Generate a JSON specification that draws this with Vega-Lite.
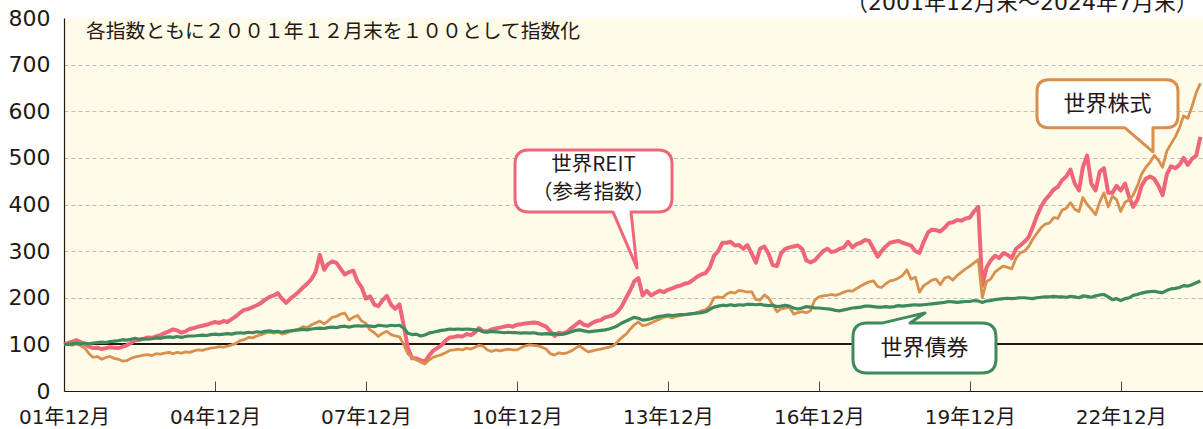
{
  "$schema": "https://vega.github.io/schema/vega-lite/v6.json",
  "width": 1139,
  "height": 373,
  "autosize": {"type": "none"},
  "padding": {"left": 64, "top": 18, "right": 0, "bottom": 38},
  "background": "white",
  "config": {
    "view": {"fill": "#FEFBE8", "stroke": null},
    "font": "Noto Sans CJK JP"
  },
  "data": {"values": [
{"d":"2001-12","s":100,"r":100,"b":100},
{"d":"2002-01","s":100,"r":103,"b":100},
{"d":"2002-02","s":98,"r":106,"b":101},
{"d":"2002-03","s":102,"r":109,"b":102},
{"d":"2002-04","s":97,"r":105,"b":101},
{"d":"2002-05","s":92,"r":100,"b":103},
{"d":"2002-06","s":80,"r":95,"b":101},
{"d":"2002-07","s":72,"r":92,"b":103},
{"d":"2002-08","s":74,"r":93,"b":104},
{"d":"2002-09","s":68,"r":90,"b":105},
{"d":"2002-10","s":72,"r":92,"b":104},
{"d":"2002-11","s":74,"r":94,"b":106},
{"d":"2002-12","s":70,"r":93,"b":107},
{"d":"2003-01","s":68,"r":92,"b":108},
{"d":"2003-02","s":64,"r":95,"b":110},
{"d":"2003-03","s":65,"r":98,"b":109},
{"d":"2003-04","s":70,"r":103,"b":111},
{"d":"2003-05","s":73,"r":109,"b":113},
{"d":"2003-06","s":75,"r":110,"b":111},
{"d":"2003-07","s":77,"r":112,"b":112},
{"d":"2003-08","s":78,"r":115,"b":111},
{"d":"2003-09","s":76,"r":114,"b":112},
{"d":"2003-10","s":80,"r":117,"b":114},
{"d":"2003-11","s":79,"r":120,"b":113},
{"d":"2003-12","s":81,"r":124,"b":115},
{"d":"2004-01","s":83,"r":128,"b":116},
{"d":"2004-02","s":80,"r":132,"b":115},
{"d":"2004-03","s":83,"r":130,"b":117},
{"d":"2004-04","s":81,"r":125,"b":115},
{"d":"2004-05","s":84,"r":128,"b":117},
{"d":"2004-06","s":83,"r":133,"b":118},
{"d":"2004-07","s":86,"r":135,"b":118},
{"d":"2004-08","s":88,"r":138,"b":119},
{"d":"2004-09","s":87,"r":140,"b":120},
{"d":"2004-10","s":90,"r":142,"b":119},
{"d":"2004-11","s":92,"r":145,"b":121},
{"d":"2004-12","s":93,"r":148,"b":122},
{"d":"2005-01","s":95,"r":146,"b":121},
{"d":"2005-02","s":94,"r":150,"b":122},
{"d":"2005-03","s":96,"r":148,"b":123},
{"d":"2005-04","s":99,"r":154,"b":122},
{"d":"2005-05","s":102,"r":160,"b":124},
{"d":"2005-06","s":108,"r":168,"b":125},
{"d":"2005-07","s":110,"r":174,"b":124},
{"d":"2005-08","s":115,"r":176,"b":126},
{"d":"2005-09","s":114,"r":180,"b":125},
{"d":"2005-10","s":118,"r":184,"b":127},
{"d":"2005-11","s":121,"r":189,"b":126},
{"d":"2005-12","s":124,"r":196,"b":128},
{"d":"2006-01","s":126,"r":202,"b":129},
{"d":"2006-02","s":124,"r":205,"b":127},
{"d":"2006-03","s":127,"r":210,"b":128},
{"d":"2006-04","s":122,"r":198,"b":126},
{"d":"2006-05","s":124,"r":189,"b":128},
{"d":"2006-06","s":128,"r":198,"b":129},
{"d":"2006-07","s":130,"r":205,"b":130},
{"d":"2006-08","s":133,"r":213,"b":131},
{"d":"2006-09","s":138,"r":222,"b":132},
{"d":"2006-10","s":136,"r":230,"b":131},
{"d":"2006-11","s":142,"r":240,"b":133},
{"d":"2006-12","s":146,"r":255,"b":134},
{"d":"2007-01","s":150,"r":292,"b":135},
{"d":"2007-02","s":144,"r":260,"b":134},
{"d":"2007-03","s":150,"r":272,"b":136},
{"d":"2007-04","s":158,"r":278,"b":137},
{"d":"2007-05","s":160,"r":275,"b":136},
{"d":"2007-06","s":165,"r":262,"b":138},
{"d":"2007-07","s":167,"r":250,"b":139},
{"d":"2007-08","s":152,"r":255,"b":137},
{"d":"2007-09","s":158,"r":258,"b":139},
{"d":"2007-10","s":162,"r":235,"b":140},
{"d":"2007-11","s":150,"r":222,"b":139},
{"d":"2007-12","s":145,"r":198,"b":140},
{"d":"2008-01","s":131,"r":203,"b":139},
{"d":"2008-02","s":125,"r":185,"b":138},
{"d":"2008-03","s":117,"r":182,"b":141},
{"d":"2008-04","s":124,"r":195,"b":140},
{"d":"2008-05","s":128,"r":204,"b":139},
{"d":"2008-06","s":121,"r":185,"b":141},
{"d":"2008-07","s":118,"r":176,"b":140},
{"d":"2008-08","s":116,"r":186,"b":141},
{"d":"2008-09","s":100,"r":140,"b":135},
{"d":"2008-10","s":80,"r":92,"b":124},
{"d":"2008-11","s":72,"r":70,"b":121},
{"d":"2008-12","s":67,"r":70,"b":122},
{"d":"2009-01","s":62,"r":66,"b":118},
{"d":"2009-02","s":58,"r":63,"b":120},
{"d":"2009-03","s":66,"r":75,"b":124},
{"d":"2009-04","s":72,"r":86,"b":126},
{"d":"2009-05","s":75,"r":92,"b":128},
{"d":"2009-06","s":78,"r":98,"b":130},
{"d":"2009-07","s":82,"r":108,"b":131},
{"d":"2009-08","s":87,"r":115,"b":133},
{"d":"2009-09","s":88,"r":116,"b":132},
{"d":"2009-10","s":90,"r":118,"b":133},
{"d":"2009-11","s":88,"r":117,"b":132},
{"d":"2009-12","s":92,"r":122,"b":133},
{"d":"2010-01","s":90,"r":120,"b":132},
{"d":"2010-02","s":94,"r":126,"b":131},
{"d":"2010-03","s":98,"r":135,"b":131},
{"d":"2010-04","s":96,"r":128,"b":127},
{"d":"2010-05","s":88,"r":128,"b":126},
{"d":"2010-06","s":85,"r":132,"b":128},
{"d":"2010-07","s":88,"r":134,"b":127},
{"d":"2010-08","s":86,"r":136,"b":126},
{"d":"2010-09","s":88,"r":138,"b":125},
{"d":"2010-10","s":90,"r":140,"b":126},
{"d":"2010-11","s":88,"r":138,"b":125},
{"d":"2010-12","s":88,"r":142,"b":125},
{"d":"2011-01","s":93,"r":143,"b":124},
{"d":"2011-02","s":97,"r":145,"b":125},
{"d":"2011-03","s":99,"r":146,"b":124},
{"d":"2011-04","s":98,"r":147,"b":125},
{"d":"2011-05","s":97,"r":146,"b":123},
{"d":"2011-06","s":94,"r":142,"b":122},
{"d":"2011-07","s":90,"r":138,"b":123},
{"d":"2011-08","s":80,"r":128,"b":122},
{"d":"2011-09","s":77,"r":118,"b":123},
{"d":"2011-10","s":82,"r":125,"b":121},
{"d":"2011-11","s":80,"r":123,"b":122},
{"d":"2011-12","s":82,"r":127,"b":124},
{"d":"2012-01","s":86,"r":135,"b":127},
{"d":"2012-02","s":92,"r":142,"b":130},
{"d":"2012-03","s":97,"r":149,"b":131},
{"d":"2012-04","s":90,"r":142,"b":129},
{"d":"2012-05","s":84,"r":140,"b":127},
{"d":"2012-06","s":86,"r":146,"b":128},
{"d":"2012-07","s":88,"r":150,"b":129},
{"d":"2012-08","s":90,"r":152,"b":130},
{"d":"2012-09","s":92,"r":158,"b":131},
{"d":"2012-10","s":94,"r":160,"b":133},
{"d":"2012-11","s":97,"r":163,"b":136},
{"d":"2012-12","s":106,"r":170,"b":140},
{"d":"2013-01","s":115,"r":182,"b":146},
{"d":"2013-02","s":122,"r":200,"b":150},
{"d":"2013-03","s":132,"r":215,"b":154},
{"d":"2013-04","s":142,"r":235,"b":158},
{"d":"2013-05","s":148,"r":242,"b":156},
{"d":"2013-06","s":140,"r":205,"b":152},
{"d":"2013-07","s":142,"r":215,"b":153},
{"d":"2013-08","s":146,"r":205,"b":155},
{"d":"2013-09","s":150,"r":210,"b":158},
{"d":"2013-10","s":154,"r":215,"b":160},
{"d":"2013-11","s":158,"r":212,"b":161},
{"d":"2013-12","s":160,"r":217,"b":163},
{"d":"2014-01","s":157,"r":220,"b":162},
{"d":"2014-02","s":160,"r":224,"b":163},
{"d":"2014-03","s":161,"r":226,"b":164},
{"d":"2014-04","s":163,"r":230,"b":164},
{"d":"2014-05","s":165,"r":232,"b":165},
{"d":"2014-06","s":166,"r":238,"b":166},
{"d":"2014-07","s":168,"r":245,"b":167},
{"d":"2014-08","s":172,"r":250,"b":168},
{"d":"2014-09","s":174,"r":253,"b":170},
{"d":"2014-10","s":182,"r":265,"b":175},
{"d":"2014-11","s":200,"r":290,"b":180},
{"d":"2014-12","s":202,"r":300,"b":182},
{"d":"2015-01","s":200,"r":318,"b":184},
{"d":"2015-02","s":208,"r":318,"b":183},
{"d":"2015-03","s":212,"r":320,"b":185},
{"d":"2015-04","s":210,"r":312,"b":183},
{"d":"2015-05","s":216,"r":313,"b":185},
{"d":"2015-06","s":214,"r":305,"b":184},
{"d":"2015-07","s":212,"r":313,"b":186},
{"d":"2015-08","s":213,"r":295,"b":186},
{"d":"2015-09","s":196,"r":275,"b":185},
{"d":"2015-10","s":195,"r":305,"b":186},
{"d":"2015-11","s":206,"r":310,"b":184},
{"d":"2015-12","s":200,"r":295,"b":183},
{"d":"2016-01","s":185,"r":270,"b":184},
{"d":"2016-02","s":170,"r":268,"b":181},
{"d":"2016-03","s":176,"r":295,"b":182},
{"d":"2016-04","s":178,"r":305,"b":184},
{"d":"2016-05","s":180,"r":308,"b":182},
{"d":"2016-06","s":165,"r":310,"b":178},
{"d":"2016-07","s":168,"r":312,"b":176},
{"d":"2016-08","s":170,"r":305,"b":178},
{"d":"2016-09","s":168,"r":280,"b":181},
{"d":"2016-10","s":172,"r":276,"b":180},
{"d":"2016-11","s":195,"r":280,"b":178},
{"d":"2016-12","s":202,"r":290,"b":178},
{"d":"2017-01","s":204,"r":300,"b":177},
{"d":"2017-02","s":205,"r":305,"b":176},
{"d":"2017-03","s":207,"r":298,"b":175},
{"d":"2017-04","s":205,"r":300,"b":173},
{"d":"2017-05","s":208,"r":305,"b":172},
{"d":"2017-06","s":212,"r":308,"b":174},
{"d":"2017-07","s":215,"r":320,"b":176},
{"d":"2017-08","s":214,"r":308,"b":178},
{"d":"2017-09","s":220,"r":315,"b":179},
{"d":"2017-10","s":225,"r":318,"b":180},
{"d":"2017-11","s":230,"r":324,"b":182},
{"d":"2017-12","s":234,"r":322,"b":182},
{"d":"2018-01","s":236,"r":305,"b":181},
{"d":"2018-02","s":224,"r":288,"b":180},
{"d":"2018-03","s":222,"r":300,"b":180},
{"d":"2018-04","s":230,"r":310,"b":181},
{"d":"2018-05","s":236,"r":318,"b":180},
{"d":"2018-06","s":238,"r":320,"b":181},
{"d":"2018-07","s":242,"r":322,"b":183},
{"d":"2018-08","s":248,"r":318,"b":182},
{"d":"2018-09","s":260,"r":315,"b":183},
{"d":"2018-10","s":240,"r":312,"b":184},
{"d":"2018-11","s":244,"r":300,"b":185},
{"d":"2018-12","s":212,"r":296,"b":184},
{"d":"2019-01","s":226,"r":320,"b":185},
{"d":"2019-02","s":232,"r":340,"b":186},
{"d":"2019-03","s":238,"r":346,"b":187},
{"d":"2019-04","s":240,"r":345,"b":188},
{"d":"2019-05","s":228,"r":342,"b":189},
{"d":"2019-06","s":242,"r":350,"b":190},
{"d":"2019-07","s":245,"r":360,"b":192},
{"d":"2019-08","s":238,"r":362,"b":191},
{"d":"2019-09","s":248,"r":367,"b":190},
{"d":"2019-10","s":255,"r":365,"b":191},
{"d":"2019-11","s":262,"r":370,"b":192},
{"d":"2019-12","s":268,"r":372,"b":192},
{"d":"2020-01","s":275,"r":385,"b":194},
{"d":"2020-02","s":282,"r":395,"b":193},
{"d":"2020-03","s":200,"r":225,"b":190},
{"d":"2020-04","s":235,"r":265,"b":193},
{"d":"2020-05","s":240,"r":280,"b":194},
{"d":"2020-06","s":255,"r":290,"b":196},
{"d":"2020-07","s":262,"r":285,"b":197},
{"d":"2020-08","s":268,"r":296,"b":198},
{"d":"2020-09","s":265,"r":292,"b":199},
{"d":"2020-10","s":262,"r":285,"b":198},
{"d":"2020-11","s":285,"r":305,"b":199},
{"d":"2020-12","s":296,"r":312,"b":200},
{"d":"2021-01","s":300,"r":320,"b":200},
{"d":"2021-02","s":310,"r":330,"b":199},
{"d":"2021-03","s":325,"r":350,"b":198},
{"d":"2021-04","s":338,"r":375,"b":200},
{"d":"2021-05","s":350,"r":395,"b":201},
{"d":"2021-06","s":358,"r":410,"b":202},
{"d":"2021-07","s":360,"r":420,"b":202},
{"d":"2021-08","s":372,"r":432,"b":203},
{"d":"2021-09","s":370,"r":438,"b":202},
{"d":"2021-10","s":388,"r":452,"b":202},
{"d":"2021-11","s":392,"r":460,"b":201},
{"d":"2021-12","s":404,"r":475,"b":203},
{"d":"2022-01","s":390,"r":445,"b":202},
{"d":"2022-02","s":385,"r":430,"b":200},
{"d":"2022-03","s":415,"r":480,"b":204},
{"d":"2022-04","s":400,"r":505,"b":203},
{"d":"2022-05","s":390,"r":445,"b":201},
{"d":"2022-06","s":378,"r":430,"b":204},
{"d":"2022-07","s":405,"r":470,"b":206},
{"d":"2022-08","s":425,"r":478,"b":207},
{"d":"2022-09","s":395,"r":425,"b":202},
{"d":"2022-10","s":418,"r":425,"b":196},
{"d":"2022-11","s":410,"r":440,"b":198},
{"d":"2022-12","s":385,"r":430,"b":194},
{"d":"2023-01","s":405,"r":445,"b":198},
{"d":"2023-02","s":410,"r":415,"b":200},
{"d":"2023-03","s":420,"r":395,"b":205},
{"d":"2023-04","s":440,"r":410,"b":207},
{"d":"2023-05","s":465,"r":440,"b":210},
{"d":"2023-06","s":480,"r":455,"b":212},
{"d":"2023-07","s":490,"r":460,"b":213},
{"d":"2023-08","s":505,"r":455,"b":214},
{"d":"2023-09","s":495,"r":440,"b":212},
{"d":"2023-10","s":480,"r":420,"b":211},
{"d":"2023-11","s":515,"r":465,"b":216},
{"d":"2023-12","s":530,"r":482,"b":219},
{"d":"2024-01","s":545,"r":478,"b":220},
{"d":"2024-02","s":565,"r":485,"b":222},
{"d":"2024-03","s":590,"r":500,"b":226},
{"d":"2024-04","s":585,"r":485,"b":225},
{"d":"2024-05","s":610,"r":498,"b":228},
{"d":"2024-06","s":640,"r":505,"b":232},
{"d":"2024-07","s":660,"r":545,"b":236}
  ]},
  "layer": [
    {
      "mark": {"type": "rule", "color": "#231815", "strokeWidth": 1.2},
      "encoding": {"y": {"datum": 100, "type": "quantitative", "scale": {"domain": [0, 800], "nice": false}}}
    },
    {
      "mark": {"type": "line", "color": "#EF6679", "strokeWidth": 4, "strokeJoin": "round"},
      "encoding": {
        "x": {
          "field": "d", "type": "temporal",
          "scale": {"type": "utc", "domain": [{"year": 2001, "month": 12, "date": 1, "utc": true}, {"year": 2024, "month": 7, "date": 20, "utc": true}]},
          "axis": {
            "title": null,
            "values": [
              {"year": 2001, "month": 12, "date": 1, "utc": true},
              {"year": 2004, "month": 12, "date": 1, "utc": true},
              {"year": 2007, "month": 12, "date": 1, "utc": true},
              {"year": 2010, "month": 12, "date": 1, "utc": true},
              {"year": 2013, "month": 12, "date": 1, "utc": true},
              {"year": 2016, "month": 12, "date": 1, "utc": true},
              {"year": 2019, "month": 12, "date": 1, "utc": true},
              {"year": 2022, "month": 12, "date": 1, "utc": true}
            ],
            "labelExpr": "utcFormat(datum.value, '%y年%m月')",
            "grid": false,
            "domainColor": "#231815", "domainWidth": 1.2,
            "tickColor": "#4a4a4a", "tickWidth": 1, "tickSize": -10,
            "labelFont": "DejaVu Sans, Noto Sans CJK JP",
            "labelFontSize": 20, "labelColor": "#231815", "labelPadding": 26,
            "labelFlush": false, "labelOverlap": false, "labelBound": false
          }
        },
        "y": {
          "field": "r", "type": "quantitative",
          "scale": {"domain": [0, 800], "nice": false},
          "axis": {
            "title": null,
            "values": [0, 100, 200, 300, 400, 500, 600, 700, 800],
            "ticks": false,
            "labelFont": "DejaVu Sans",
            "labelFontSize": 22, "labelColor": "#231815", "labelPadding": 14,
            "domainColor": "#231815", "domainWidth": 1.2,
            "grid": true, "gridColor": "#BDBDBD", "gridDash": [4, 3], "gridWidth": 1,
            "gridOpacity": {"condition": {"test": "datum.value === 800", "value": 0}, "value": 1},
            "labelFlush": false, "labelOverlap": false, "labelBound": false
          }
        }
      }
    },
    {
      "mark": {"type": "line", "color": "#D98F4E", "strokeWidth": 2.8, "strokeJoin": "round"},
      "encoding": {
        "x": {"field": "d", "type": "temporal", "title": null},
        "y": {"field": "s", "type": "quantitative", "title": null}
      }
    },
    {
      "mark": {"type": "line", "color": "#3E8A5C", "strokeWidth": 3.2, "strokeJoin": "round"},
      "encoding": {
        "x": {"field": "d", "type": "temporal", "title": null},
        "y": {"field": "b", "type": "quantitative", "title": null}
      }
    },
    {
      "data": {"values": [{"d": "2013-04-21", "v": 264}]},
      "mark": {"type": "point", "shape": "M-1.08,-1.18H0.21Q0.35,-1.18 0.35,-1.04V-0.70Q0.35,-0.56 0.21,-0.56H-0.06L0,0L-0.24,-0.56H-1.08Q-1.22,-0.56 -1.22,-0.70V-1.04Q-1.22,-1.18 -1.08,-1.18Z", "size": 40000, "filled": true, "fill": "white", "stroke": "#EF6679", "strokeWidth": 3, "opacity": 1, "strokeJoin": "round"},
      "encoding": {
        "x": {"field": "d", "type": "temporal", "title": null},
        "y": {"field": "v", "type": "quantitative", "title": null}
      }
    },
    {
      "data": {"values": [{"d": "2023-07-23", "v": 513}]},
      "mark": {"type": "point", "shape": "M-1.04,-0.72H0.13Q0.25,-0.72 0.25,-0.6V-0.36Q0.25,-0.24 0.13,-0.24H0L0,0L-0.28,-0.24H-1.04Q-1.16,-0.24 -1.16,-0.36V-0.6Q-1.16,-0.72 -1.04,-0.72Z", "size": 40000, "filled": true, "fill": "white", "stroke": "#D98F4E", "strokeWidth": 3, "opacity": 1, "strokeJoin": "round"},
      "encoding": {
        "x": {"field": "d", "type": "temporal", "title": null},
        "y": {"field": "v", "type": "quantitative", "title": null}
      }
    },
    {
      "data": {"values": [{"d": "2019-01-10", "v": 167.5}]},
      "mark": {"type": "point", "shape": "M-0.58,0.1H-0.42L0,0L-0.15,0.1H0.57Q0.71,0.1 0.71,0.24V0.46Q0.71,0.6 0.57,0.6H-0.58Q-0.72,0.6 -0.72,0.46V0.24Q-0.72,0.1 -0.58,0.1Z", "size": 40000, "filled": true, "fill": "white", "stroke": "#3E8A5C", "strokeWidth": 3, "opacity": 1, "strokeJoin": "round"},
      "encoding": {
        "x": {"field": "d", "type": "temporal", "title": null},
        "y": {"field": "v", "type": "quantitative", "title": null}
      }
    },
    {
      "data": {"values": [
        {"d": "2022-08-27", "v": 616, "t": "世界株式"},
        {"d": "2019-01-07", "v": 92, "t": "世界債券"}
      ]},
      "mark": {"type": "text", "fontSize": 22, "color": "#231815", "align": "center", "baseline": "middle"},
      "encoding": {
        "x": {"field": "d", "type": "temporal", "title": null},
        "y": {"field": "v", "type": "quantitative", "title": null},
        "text": {"field": "t"}
      }
    },
    {
      "data": {"values": [
        {"d": "2012-06-09", "v": 484, "t": "世界REIT"},
        {"d": "2012-06-09", "v": 425, "t": "（参考指数）"}
      ]},
      "mark": {"type": "text", "fontSize": 20.5, "color": "#231815", "align": "center", "baseline": "middle"},
      "encoding": {
        "x": {"field": "d", "type": "temporal", "title": null},
        "y": {"field": "v", "type": "quantitative", "title": null},
        "text": {"field": "t"}
      }
    },
    {
      "data": {"values": [{"d": "2002-05-10", "v": 769, "t": "各指数ともに２００１年１２月末を１００として指数化"}]},
      "mark": {"type": "text", "fontSize": 19.8, "color": "#231815", "align": "left", "baseline": "middle"},
      "encoding": {
        "x": {"field": "d", "type": "temporal", "title": null},
        "y": {"field": "v", "type": "quantitative", "title": null},
        "text": {"field": "t"}
      }
    },
    {
      "data": {"values": [{"d": "2024-06-13", "v": 818, "t": "（2001年12月末～2024年7月末）"}]},
      "mark": {"type": "text", "fontSize": 22, "font": "DejaVu Sans, Noto Sans CJK JP", "color": "#231815", "align": "right", "baseline": "alphabetic"},
      "encoding": {
        "x": {"field": "d", "type": "temporal", "title": null},
        "y": {"field": "v", "type": "quantitative", "title": null, "scale": {"domain": [0, 800], "nice": false}},
        "text": {"field": "t"}
      }
    }
  ]
}
